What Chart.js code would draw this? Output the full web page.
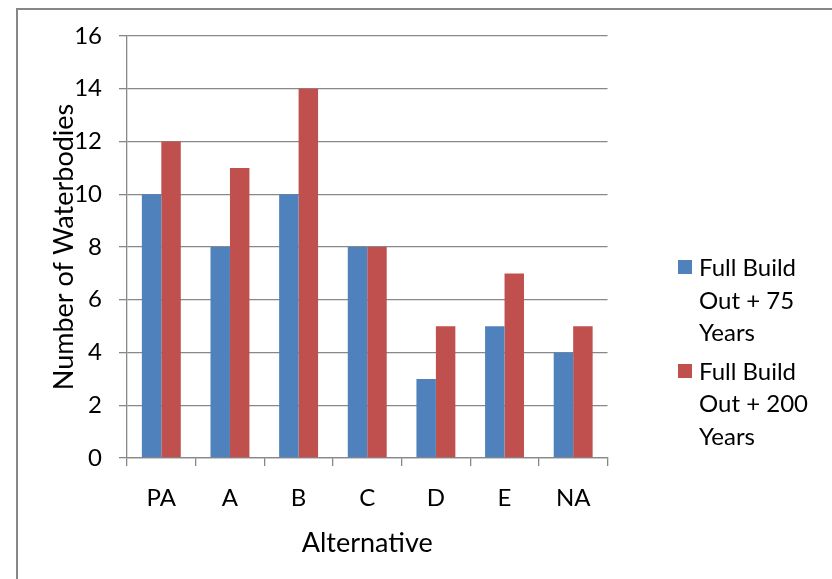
<!DOCTYPE html>
<html>
<head>
<meta charset="utf-8">
<script src="https://cdn.jsdelivr.net/npm/chart.js@4/dist/chart.umd.min.js"></script>
<style>
  html, body { margin: 0; padding: 0; background: #fff; }
  #wrap { position: relative; width: 832px; height: 579px; overflow: hidden; }
  #frame { position: absolute; left: 16px; top: 8px; width: 900px; height: 700px; border: 2px solid #878787; box-sizing: border-box; pointer-events: none; }
  #legend { position: absolute; left: 678px; top: 251px; font-family: Lato, "Open Sans", sans-serif; font-size: 24px; line-height: 32.5px; color: #000; }
  .item { position: relative; padding-left: 21px; margin-bottom: 6px; }
  .sw { position: absolute; left: 0; top: 9px; width: 14px; height: 14px; }
</style>
</head>
<body>
<div id="wrap">
  <canvas id="c" width="832" height="579"></canvas>
  <div id="frame"></div>
  <div id="legend"></div>
</div>
<script>
const categories = ["PA", "A", "B", "C", "D", "E", "NA"];
const series75Label = ["Full Build", "Out + 75", "Years"];
const series200Label = ["Full Build", "Out + 200", "Years"];
const series75 = [10, 8, 10, 8, 3, 5, 4];
const series200 = [12, 11, 14, 8, 5, 7, 5];
const yTicks = [0, 2, 4, 6, 8, 10, 12, 14, 16];
const colors = ["#4F81BD", "#C0504D"];

const gridColor = "#888888";
const fontFamily = "Lato, 'Open Sans', sans-serif";

const chart = new Chart(document.getElementById("c"), {
  type: "bar",
  data: {
    labels: categories,
    datasets: [
      { label: series75Label.join(" "), data: series75, backgroundColor: colors[0], categoryPercentage: 0.567, barPercentage: 1.0 },
      { label: series200Label.join(" "), data: series200, backgroundColor: colors[1], categoryPercentage: 0.567, barPercentage: 1.0 }
    ]
  },
  options: {
    responsive: false,
    animation: false,
    devicePixelRatio: 1,
    layout: { padding: { left: 41, right: 224.5, top: 36, bottom: 0 } },
    plugins: { legend: { display: false }, tooltip: { enabled: false } },
    scales: {
      x: {
        offset: true,
        grid: { offset: true, drawOnChartArea: false, drawTicks: true, tickLength: 8, color: gridColor, lineWidth: 1.3 },
        border: { color: gridColor, width: 1.3 },
        ticks: { color: "#000", font: { family: fontFamily, size: 24 }, padding: 18, maxRotation: 0 },
        title: { display: true, text: "Alternative", color: "#000", font: { family: fontFamily, size: 27 }, padding: { top: 0, bottom: 20 } },
        afterFit: (s) => { s.height = 121; }
      },
      y: {
        min: 0, max: 16,
        afterBuildTicks: (s) => { s.ticks = yTicks.map(v => ({ value: v })); },
        grid: { color: gridColor, lineWidth: 1.3, tickLength: 8 },
        border: { color: gridColor, width: 1.3 },
        ticks: { color: "#000", font: { family: fontFamily, size: 24 }, padding: 17 },
        title: { display: true, text: "Number of Waterbodies", color: "#000", font: { family: fontFamily, size: 27 }, padding: { top: 7.5, bottom: 0 } },
        afterFit: (s) => { s.width = 86; }
      }
    }
  }
});

// HTML legend built from the series names and colours
const legendEl = document.getElementById("legend");
[[series75Label, colors[0]], [series200Label, colors[1]]].forEach(([lines, col]) => {
  const it = document.createElement("div");
  it.className = "item";
  const sw = document.createElement("span");
  sw.className = "sw";
  sw.style.background = col;
  it.appendChild(sw);
  lines.forEach((t, i) => {
    if (i) it.appendChild(document.createElement("br"));
    it.appendChild(document.createTextNode(t));
  });
  legendEl.appendChild(it);
});
</script>
</body>
</html>
